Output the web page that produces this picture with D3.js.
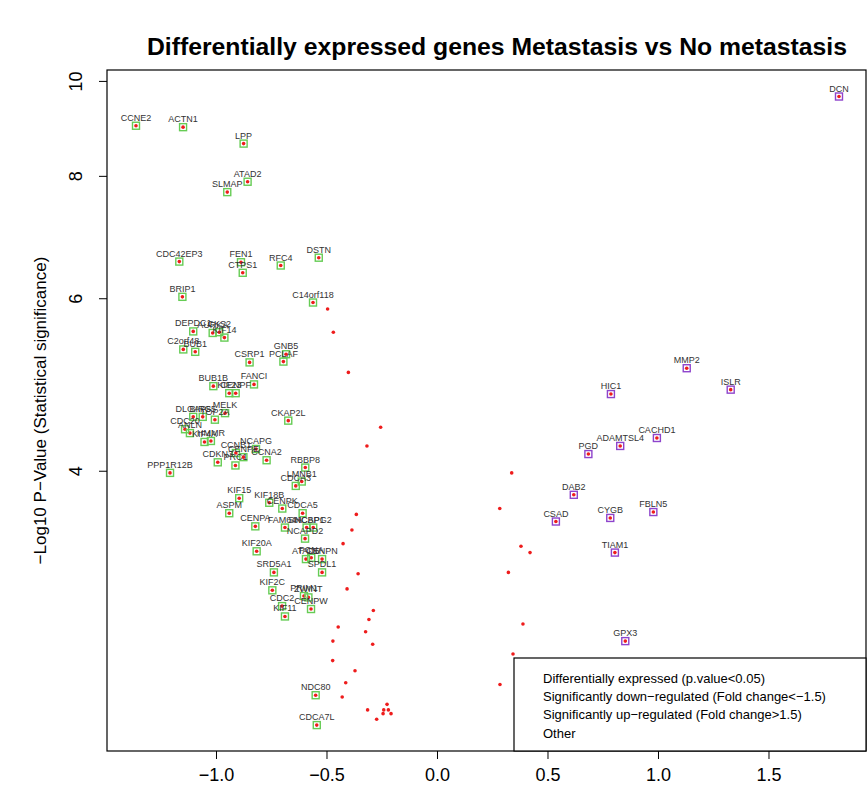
<!DOCTYPE html>
<html>
<head>
<meta charset="utf-8">
<script src="https://cdn.jsdelivr.net/npm/d3@7"></script>
<style>
  body { margin: 0; background: #fff; }
  svg { display: block; font-family: "Liberation Sans", Arial, sans-serif; }
  .gene-label { font-size: 9px; fill: #333; text-anchor: middle; }
  .tick text { font-size: 18px; fill: #000; }
</style>
</head>
<body>
<div id="chart"></div>
<script>
// down-regulated genes (green squares)
const downGenes = ["CCNE2","ACTN1","LPP","ATAD2","SLMAP","CDC42EP3","FEN1","CTPS1","RFC4","DSTN",
  "BRIP1","C14orf118","DEPDC1","AURKA","CKS2","KIF14","C2orf48","BUB1","CSRP1","GNB5",
  "PCLAF","FANCI","BUB1B","KIF23","CENPF","MELK","DLGAP5","BIRC5","TOP2A","CDC20",
  "ANLN","KIF4A","HMMR","CKAP2L","NCAPG","CCNB1","CENPE","CCNA2","CDKN3","PRC1",
  "PPP1R12B","RBBP8","LMNB1","CDCA3","KIF15","KIF18B","ASPM","CENPK","CDCA5","CENPA",
  "FAM64A","SHCBP1","NCAPG2","NCAPD2","KIF20A","ATAD5","PCNA","CENPN","SRD5A1","SPDL1",
  "KIF2C","PRIM1","ZWINT","CDC2","KIF11","CENPW","NDC80","CDCA7L"];
const downFC = [-1.362,-1.149,-0.875,-0.857,-0.949,-1.166,-0.887,-0.879,-0.707,-0.535,
  -1.152,-0.561,-1.103,-1.015,-0.985,-0.962,-1.148,-1.094,-0.848,-0.683,
  -0.695,-0.828,-1.012,-0.940,-0.911,-0.959,-1.103,-1.060,-1.005,-1.140,
  -1.118,-1.052,-1.023,-0.673,-0.819,-0.910,-0.876,-0.771,-0.992,-0.912,
  -1.208,-0.596,-0.612,-0.639,-0.895,-0.759,-0.940,-0.700,-0.608,-0.822,
  -0.688,-0.590,-0.560,-0.597,-0.816,-0.593,-0.569,-0.520,-0.738,-0.520,
  -0.745,-0.602,-0.582,-0.701,-0.688,-0.570,-0.549,-0.544];
const downLogP = [9.00,8.97,8.63,7.89,7.70,6.54,6.53,6.37,6.48,6.60,
  6.02,5.94,5.55,5.53,5.54,5.47,5.32,5.29,5.16,5.26,
  5.17,4.90,4.88,4.80,4.80,4.58,4.54,4.54,4.51,4.41,
  4.37,4.28,4.29,4.50,4.21,4.17,4.13,4.10,4.08,4.05,
  3.98,4.03,3.90,3.86,3.75,3.71,3.62,3.66,3.62,3.51,
  3.50,3.50,3.50,3.41,3.31,3.25,3.26,3.25,3.15,3.15,
  3.02,2.98,2.97,2.91,2.84,2.89,2.36,2.20];

// up-regulated genes (purple squares)
const upGenes = ["MMP2","HIC1","ISLR","CACHD1","ADAMTSL4","PGD","DAB2","CSAD","CYGB","FBLN5","TIAM1","GPX3","DCN"];
const upFC    = [1.130,0.787,1.329,0.995,0.829,0.685,0.619,0.538,0.784,0.979,0.805,0.852,1.819];
const upLogP  = [5.09,4.79,4.84,4.32,4.24,4.16,3.78,3.55,3.58,3.63,3.30,2.68,9.64];

// differentially expressed but below the fold change cut (plain red dots)
const otherFC = [-0.495,-0.469,-0.401,-0.255,-0.317,0.338,0.284,-0.365,-0.385,-0.425,
  0.380,0.421,-0.357,0.323,-0.407,-0.288,-0.308,-0.447,-0.323,-0.471,
  -0.291,-0.472,-0.371,-0.413,-0.429,-0.314,-0.226,-0.241,-0.220,-0.244,
  -0.208,-0.273,0.389,0.344,0.285];
const otherLogP = [5.85,5.54,5.04,4.43,4.24,3.98,3.66,3.61,3.48,3.37,
  3.35,3.30,3.14,3.15,3.03,2.88,2.82,2.77,2.74,2.68,
  2.66,2.56,2.50,2.43,2.35,2.28,2.31,2.28,2.28,2.26,
  2.26,2.23,2.79,2.60,2.42];

const xTicks = [-1.0,-0.5,0.0,0.5,1.0,1.5];
const yTicks = [4,6,8,10];
const legendItems = ["Differentially expressed (p.value<0.05)",
  "Significantly down\u2212regulated (Fold change<\u22121.5)",
  "Significantly up\u2212regulated (Fold change>1.5)",
  "Other"];

const W = 868, H = 805;
const L = 107, R = 866, T = 70, B = 751;

const svg = d3.select("#chart").append("svg").attr("width",W).attr("height",H);

const x = d3.scaleLinear().domain([-1.4932, 1.9412]).range([L, R]);
const y = d3.scaleLog().domain([2.070, 10.26]).range([B, T]);

// title
svg.append("text").attr("x",497).attr("y",55).attr("text-anchor","middle")
  .style("font-size","23px").style("font-weight","bold")
  .attr("textLength",700).attr("lengthAdjust","spacingAndGlyphs")
  .text("Differentially expressed genes Metastasis vs No metastasis");

// axes
const xAxis = svg.append("g").attr("transform",`translate(0,${B})`)
  .call(d3.axisBottom(x).tickValues(xTicks).tickFormat(d3.format(".1f")).tickSize(8).tickPadding(9));
xAxis.select(".domain").remove();
xAxis.selectAll("line").attr("stroke","#000");

const yAxis = svg.append("g").attr("transform",`translate(${L},0)`)
  .call(d3.axisLeft(y).tickValues(yTicks).tickFormat(d3.format("d")).tickSize(8));
yAxis.select(".domain").remove();
yAxis.selectAll("line").attr("stroke","#000");
yAxis.selectAll("text").attr("x",null).attr("dy",null)
  .attr("text-anchor","middle").attr("transform","translate(-25,0) rotate(-90)");

svg.append("text").attr("transform",`translate(46,${(T+B)/2}) rotate(-90)`)
  .attr("text-anchor","middle").style("font-size","17px")
  .text("\u2212Log10 P\u2212Value (Statistical significance)");

// plot box
svg.append("rect").attr("x",L).attr("y",T).attr("width",R-L).attr("height",B-T)
  .attr("fill","none").attr("stroke","#000").attr("stroke-width",1.2);

const plotG = svg.append("g");

const down = downGenes.map((g,i)=>({name:g, fc:downFC[i], p:downLogP[i]}));
const up   = upGenes.map((g,i)=>({name:g, fc:upFC[i], p:upLogP[i]}));
const other = otherFC.map((f,i)=>({fc:f, p:otherLogP[i]}));
const all = other.concat(down, up);

// every differentially expressed gene: small red dot
plotG.selectAll("circle.dot").data(all).join("circle").attr("class","dot")
  .attr("cx",d=>x(d.fc)).attr("cy",d=>y(d.p)).attr("r",1.8).attr("fill","#ee1c1c");

// squares round the regulated genes
function squares(data, color) {
  plotG.append("g").selectAll("rect").data(data).join("rect")
    .attr("x",d=>x(d.fc)-3.5).attr("y",d=>y(d.p)-3.5).attr("width",7).attr("height",7)
    .attr("fill","none").attr("stroke",color).attr("stroke-width",1.4);
}
squares(down, "#66cc55");
squares(up, "#8e44cc");

plotG.append("g").selectAll("text").data(down.concat(up)).join("text").attr("class","gene-label")
  .attr("x",d=>x(d.fc)).attr("y",d=>y(d.p)-5).text(d=>d.name);

// legend
const lg = svg.append("g");
lg.append("rect").attr("x",514).attr("y",658).attr("width",R-514).attr("height",B-658)
  .attr("fill","#fff").attr("stroke","#000").attr("stroke-width",1.2);
lg.selectAll("text").data(legendItems).join("text")
  .attr("x",543).attr("y",(d,i)=>683+i*18.2).style("font-size","13px").text(d=>d);
</script>
</body>
</html>
